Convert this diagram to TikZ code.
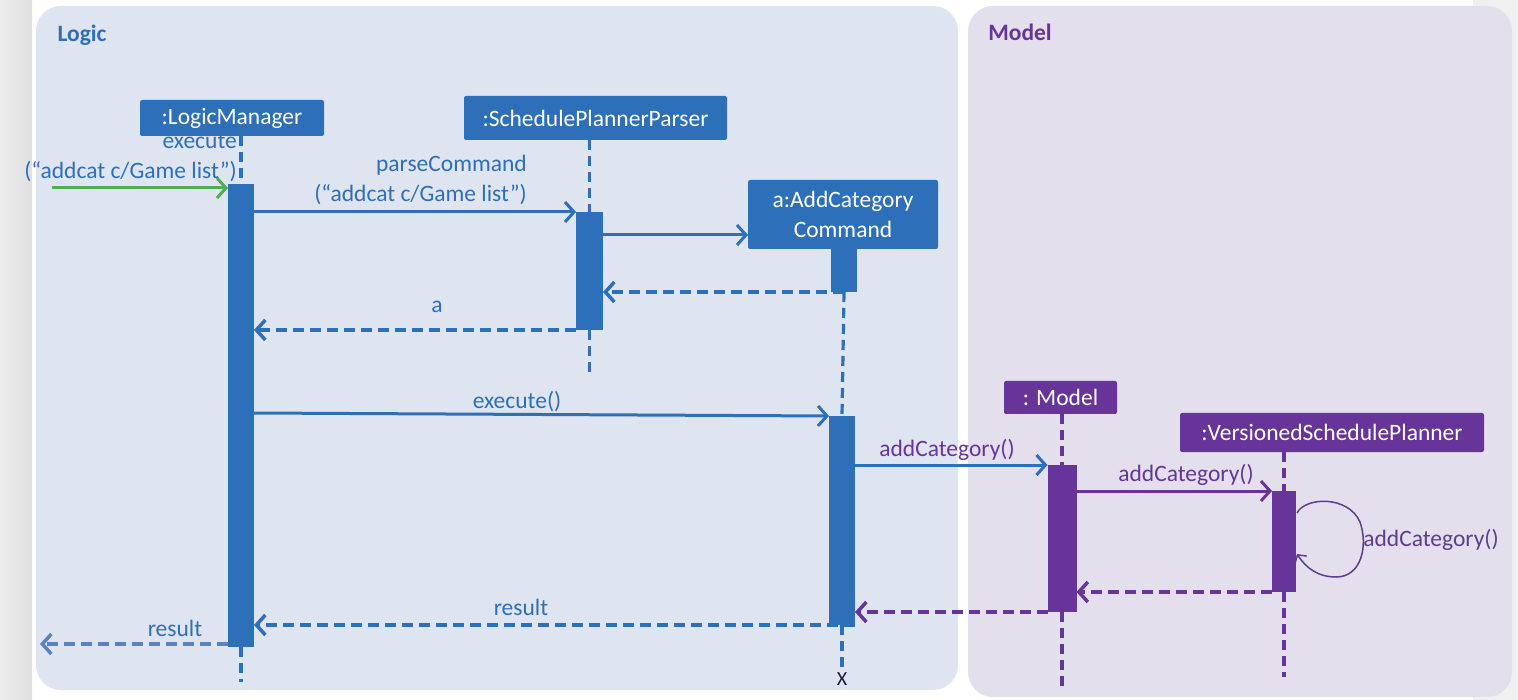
\documentclass[tikz,border=0pt]{standalone}
\usepackage{fontspec}
\setmainfont{Carlito}
\usetikzlibrary{arrows.meta,calc}
\definecolor{lblue}{HTML}{2E6FBA}
\definecolor{lpurple}{HTML}{673499}
\definecolor{lgreen}{HTML}{4CAF50}
\definecolor{logicbg}{HTML}{DEE5F0}
\definecolor{modelbg}{HTML}{E4DFED}
\definecolor{resblue}{HTML}{5A82C0}
\definecolor{loopc}{HTML}{5B3F8C}
\definecolor{stripL}{HTML}{ECECEC}
\definecolor{stripR}{HTML}{E0E0E0}
\definecolor{stripE}{HTML}{F0F0F0}
\definecolor{xcol}{HTML}{1A1A3A}
\newcommand{\bigfnt}{\fontsize{23.5}{30}\selectfont}
\begin{document}
\begin{tikzpicture}[x=1pt,y=-1pt,
  obj/.style={fill=#1, text=white, rounded corners=2pt, inner sep=0pt, outer sep=0pt, font=\bigfnt, align=center},
  actbar/.style={fill=#1, inner sep=0pt, outer sep=0pt},
  lifeline/.style={draw=#1, line width=3.2pt, dash pattern=on 10pt off 6pt},
  call/.style={draw=#1, line width=3pt, -{Straight Barb[length=9pt,width=20pt]}},
  reply/.style={draw=#1, line width=3.5pt, dash pattern=on 11pt off 6pt, -{Straight Barb[length=9pt,width=20pt]}},
  lbl/.style={text=#1, font=\bigfnt, inner sep=0pt},
  ttl/.style={text=#1, font=\bigfnt\bfseries, inner sep=0pt},
]
\useasboundingbox (0,0) rectangle (1518,700);
% background
\fill[white] (0,0) rectangle (1518,700);
\shade[left color=stripL, right color=stripR] (0,0) rectangle (32,700);
\fill[stripE] (1473,0) rectangle (1518,700);
\fill[logicbg, rounded corners=25pt] (36,6) rectangle (958,690);
\fill[modelbg, rounded corners=25pt] (968,6) rectangle (1512,697);

% titles
\node[ttl=lblue] (tlogic) at (82,35) {Logic};
\node[ttl=lpurple] (tmodel) at (1020,32) {Model};

% objects
\node[obj=lblue, minimum width=184pt, minimum height=36pt] (lm) at (232,118) {:LogicManager};
\node[obj=lblue, minimum width=263pt, minimum height=44pt] (spp) at (595.5,118) {:SchedulePlannerParser};
\node[obj=lblue, minimum width=190pt, minimum height=69pt] (ac) at (843,214.5) {a:AddCategory\\Command};
\node[obj=lpurple, minimum width=113pt, minimum height=33pt] (mod) at (1060.5,397.5) {: Model};
\node[obj=lpurple, minimum width=304pt, minimum height=39pt] (vsp) at (1332,432.5) {:VersionedSchedulePlanner};

% activation bars
\node[actbar=lblue, minimum width=26pt, minimum height=463pt] (lma) at (241,415.5) {};
\node[actbar=lblue, minimum width=27pt, minimum height=118pt] (sppa) at (589.5,271) {};
\node[actbar=lblue, minimum width=26pt, minimum height=43pt] (aca1) at (844,270.5) {};
\node[actbar=lblue, minimum width=26pt, minimum height=209pt] (aca2) at (842,520.5) {};
\node[actbar=lpurple, minimum width=29pt, minimum height=147pt] (ma) at (1062,538.5) {};
\node[actbar=lpurple, minimum width=24pt, minimum height=101pt] (vspa) at (1284,541.5) {};

% end points
\coordinate (lmend) at (241,682);
\coordinate (sppend) at (589.5,372);
\coordinate (maend) at (1062,688);
\coordinate (vspend) at (1284,677);
\coordinate (start) at (52,188);
\coordinate (resend) at (40,644);
\node[text=xcol, font=\fontsize{20}{20}\selectfont, inner sep=0pt] (xend) at (842,679) {X};

% lifelines
\draw[lifeline=lblue] (lma.north |- lm.south) -- (lma.north);
\draw[lifeline=lblue] (lma.south) -- (lmend);
\draw[lifeline=lblue] (sppa.north |- spp.south) -- (sppa.north);
\draw[lifeline=lblue] (sppa.south) -- (sppend);
\draw[lifeline=lblue] (aca1.south) -- (aca2.north);
\draw[lifeline=lblue] (aca2.south) -- (xend.north);
\draw[lifeline=lpurple] (ma.north |- mod.south) -- (ma.north);
\draw[lifeline=lpurple] (ma.south) -- (maend);
\draw[lifeline=lpurple] (vspa.north |- vsp.south) -- (vspa.north);
\draw[lifeline=lpurple] (vspa.south) -- (vspend);

% messages
\draw[call=lgreen] (start) -- (lma.west |- start);
\node[lbl=lblue, align=right, anchor=east] (exlbl) at (237,158) {execute\\(“addcat c/Game list”)};

\draw[call=lblue] (lma.east |- sppa.north) -- (sppa.north west);
\node[lbl=lblue, align=right, anchor=east] (pclbl) at (527,180) {parseCommand\\(“addcat c/Game list”)};

\draw[call=lblue] ($(sppa.north east)+(0,23)$) -- (ac.west |- {$(sppa.north east)+(0,23)$});

\draw[reply=lblue] (aca1.south) -- (sppa.east |- aca1.south);

\draw[reply=lblue] (sppa.south west) -- (lma.east |- sppa.south);
\node[lbl=lblue] (albl) at (437,307) {a};

\draw[call=lblue] ($(lma.north east)+(0,229)$) -- (aca2.north west);
\node[lbl=lblue] (exelbl) at (517,402) {execute()};

\draw[call=lblue] (aca2.east |- ma.north) -- (ma.north west);
\node[lbl=lpurple] (ac1lbl) at (947,450) {addCategory()};

\draw[call=lpurple] (ma.east |- vspa.north) -- (vspa.north west);
\node[lbl=lpurple] (ac2lbl) at (1186,475) {addCategory()};

\coordinate (loopa) at ($(vspa.north east)+(1,22)$);
\coordinate (loopb) at ($(vspa.north east)+(1,63)$);
\draw[draw=loopc, line width=1.5pt, -{Straight Barb[length=6pt,width=14pt]}]
  (loopa) .. controls (1305,497) and (1348,495) .. (1360,522)
  .. controls (1368,545) and (1362,577) .. (1336,577)
  .. controls (1318,577) and (1306,568) .. (loopb);
\node[lbl=loopc] (ac3lbl) at (1431,540) {addCategory()};

\draw[reply=lpurple] (vspa.south west) -- (ma.east |- vspa.south);
\draw[reply=lpurple] (ma.south west) -- (aca2.east |- ma.south);

\draw[reply=lblue] (aca2.south east) -- (lma.east |- aca2.south);
\node[lbl=lblue] (r1lbl) at (521,607) {result};

\draw[reply=resblue] ($(lma.south west)+(0,-3)$) -- (resend);
\node[lbl=lblue] (r2lbl) at (175,628) {result};
\end{tikzpicture}
\end{document}
